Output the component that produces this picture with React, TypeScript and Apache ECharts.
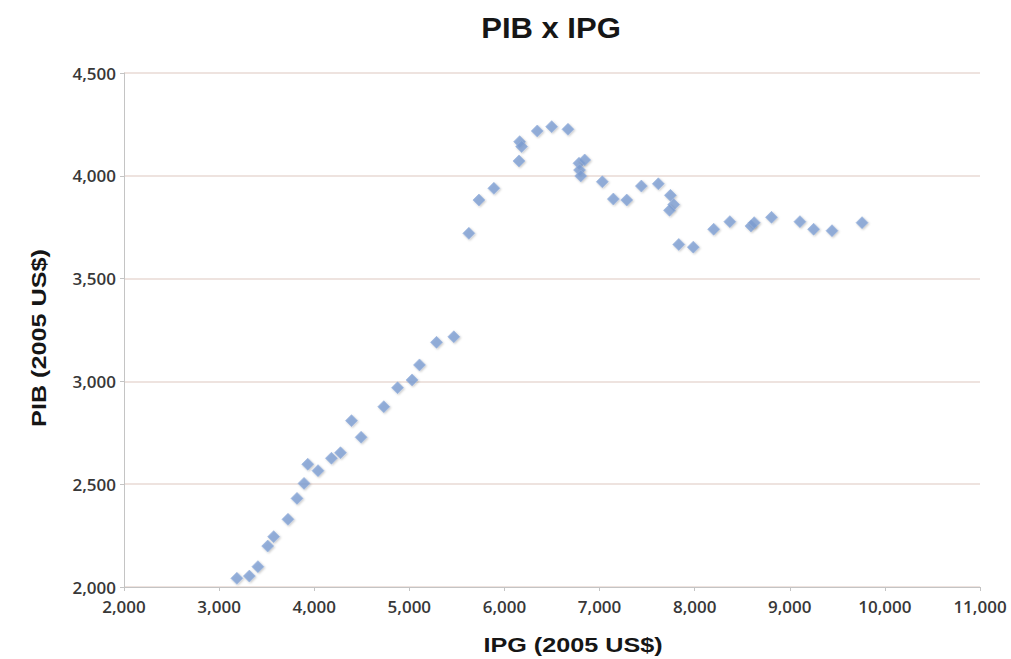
import React, { useEffect, useRef } from "react";
import * as echarts from "echarts";

const ipg = [
  3187, 3318, 3408, 3511, 3574, 3724, 3819, 3893, 3932, 4040, 4181, 4276, 4392, 4493,
  4732, 4876, 5029, 5107, 5286, 5468, 5626, 5732, 5889, 6153, 6160, 6181, 6345, 6497,
  6668, 6784, 6844, 6790, 6802, 7029, 7145, 7286, 7440, 7618, 7745, 7780, 7736, 7833,
  7986, 8200, 8370, 8592, 8626, 8808, 9107, 9251, 9444, 9760,
];
const pib = [
  2042, 2053, 2099, 2199, 2245, 2329, 2431, 2504, 2597, 2566, 2626, 2653, 2809, 2728,
  2877, 2969, 3007, 3080, 3190, 3217, 3720, 3882, 3939, 4072, 4166, 4142, 4218, 4239,
  4226, 4061, 4077, 4028, 3999, 3971, 3887, 3882, 3950, 3961, 3905, 3860, 3832, 3666,
  3653, 3740, 3777, 3756, 3772, 3798, 3777, 3740, 3733, 3772,
];
const xTicks = { min: 2000, max: 11000, interval: 1000 };
const yTicks = { min: 2000, max: 4500, interval: 500 };

const fmt = (v: number) => v.toLocaleString("en-US");

export default function App() {
  const ref = useRef<HTMLDivElement>(null);
  useEffect(() => {
    if (!ref.current) return;
    const chart = echarts.init(ref.current, null, { renderer: "svg" });
    const data = ipg.map((x, i) => [x, pib[i]]);
    const labelStyle = {
      formatter: fmt,
      fontFamily: "Open Sans",
      fontWeight: 600,
      fontSize: 17,
      color: "#383838",
    };
    chart.setOption({
      animation: false,
      backgroundColor: "#ffffff",
      grid: { left: 124, right: 31, top: 73, bottom: 72 },
      xAxis: {
        type: "value",
        min: xTicks.min,
        max: xTicks.max,
        interval: xTicks.interval,
        axisLine: { show: true, lineStyle: { color: "#c4c4c4", width: 1 } },
        axisTick: { show: true, length: 4, lineStyle: { color: "#c4c4c4" } },
        splitLine: { show: false },
        axisLabel: { ...labelStyle, margin: 11 },
      },
      yAxis: {
        type: "value",
        min: yTicks.min,
        max: yTicks.max,
        interval: yTicks.interval,
        axisLine: { show: true, lineStyle: { color: "#c4c4c4", width: 1 } },
        axisTick: { show: true, length: 4, lineStyle: { color: "#c4c4c4" } },
        splitLine: { show: true, lineStyle: { color: "#e8dad4", width: 1.5 } },
        axisLabel: { ...labelStyle, margin: 8 },
      },
      graphic: [
        {
          type: "text",
          x: 551,
          y: 28,
          scaleX: 1.07,
          style: {
            text: "PIB x IPG",
            align: "center",
            verticalAlign: "middle",
            fontFamily: "Liberation Sans",
            fontWeight: "bold",
            fontSize: 29,
            fill: "#161616",
          },
        },
        {
          type: "text",
          x: 573,
          y: 645,
          scaleX: 1.2,
          style: {
            text: "IPG (2005 US$)",
            align: "center",
            verticalAlign: "middle",
            fontFamily: "Liberation Sans",
            fontWeight: "bold",
            fontSize: 21,
            fill: "#161616",
          },
        },
        {
          type: "text",
          x: 39,
          y: 338,
          rotation: Math.PI / 2,
          scaleX: 1.2,
          style: {
            text: "PIB (2005 US$)",
            align: "center",
            verticalAlign: "middle",
            fontFamily: "Liberation Sans",
            fontWeight: "bold",
            fontSize: 21,
            fill: "#161616",
          },
        },
      ],
      series: [
        {
          type: "scatter",
          data,
          symbol: "diamond",
          symbolSize: 12,
          itemStyle: {
            color: "#7d9fd3",
            borderColor: "#9ab4dd",
            borderWidth: 0.8,
            shadowColor: "rgba(0,0,0,0.25)",
            shadowBlur: 2,
            shadowOffsetX: 1,
            shadowOffsetY: 1,
          },
        },
      ],
    });
    return () => chart.dispose();
  }, []);
  return (
    <div
      ref={ref}
      style={{ position: "fixed", left: 0, top: 0, width: 1011, height: 659 }}
    />
  );
}
